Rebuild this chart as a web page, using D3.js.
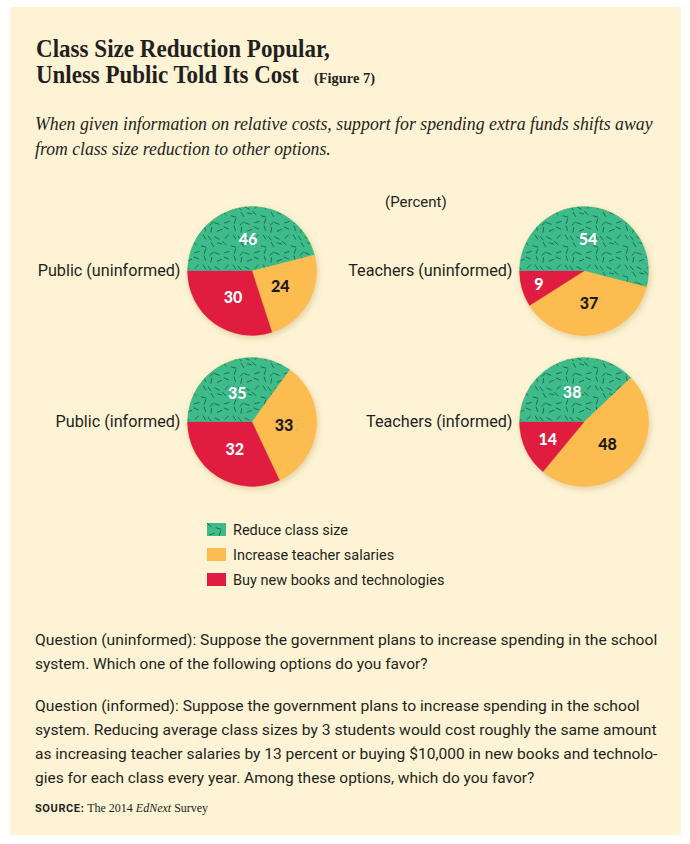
<!DOCTYPE html>
<html>
<head>
<meta charset="utf-8">
<script src="https://cdn.jsdelivr.net/npm/d3@7/dist/d3.min.js"></script>
<style>
  html, body { margin: 0; padding: 0; background: #ffffff; }
  svg { display: block; }
</style>
</head>
<body>
<svg id="chart" width="690" height="844"></svg>
<script>
// ---------- DATA ----------
const categories = ["Reduce class size", "Increase teacher salaries", "Buy new books and technologies"];
const groups = ["Public (uninformed)", "Teachers (uninformed)", "Public (informed)", "Teachers (informed)"];
const reduceClassSize = [46, 54, 35, 38];
const increaseTeacherSalaries = [24, 37, 33, 48];
const buyBooksTech = [30, 9, 32, 14];

const titleLines = ["Class Size Reduction Popular,", "Unless Public Told Its Cost"];
const figureTag = "(Figure 7)";
const subtitleLines = [
  "When given information on relative costs, support for spending extra funds shifts away",
  "from class size reduction to other options."
];
const unitLabel = "(Percent)";
const questionLines = [
  "Question (uninformed): Suppose the government plans to increase spending in the school",
  "system. Which one of the following options do you favor?",
  "Question (informed): Suppose the government plans to increase spending in the school",
  "system. Reducing average class sizes by 3 students would cost roughly the same amount",
  "as increasing teacher salaries by 13 percent or buying $10,000 in new books and technolo-",
  "gies for each class every year. Among these options, which do you favor?"
];

// ---------- STYLE ----------
const colors = ["#3dbb8b", "#fdbc50", "#e01c40"];
const labelColors = ["#ffffff", "#1a1a1a", "#ffffff"];
const bg = "#fef4d5";
const ink = "#231f20";
const sans = "Roboto, 'Open Sans', sans-serif";
const serif = "'Liberation Serif', 'DejaVu Serif', serif";

const svg = d3.select("#chart");
const defs = svg.append("defs");

// drop shadow
const f = defs.append("filter").attr("id", "shadow").attr("x", "-20%").attr("y", "-20%").attr("width", "140%").attr("height", "140%");
f.append("feDropShadow").attr("dx", 1.5).attr("dy", 2.5).attr("stdDeviation", 3)
  .attr("flood-color", "#8a6a20").attr("flood-opacity", 0.28);

// confetti texture pattern for green (deterministic)
const tile = 30;
const pat = defs.append("pattern").attr("id", "confetti").attr("patternUnits", "userSpaceOnUse")
  .attr("width", tile).attr("height", tile);
pat.append("rect").attr("width", tile).attr("height", tile).attr("fill", colors[0]);
function hash(n) { const s = Math.sin(n * 127.1 + 311.7) * 43758.5453; return s - Math.floor(s); }
const grid = 4, cell = tile / grid;
for (let i = 0; i < grid; i++) {
  for (let j = 0; j < grid; j++) {
    const k = i * grid + j;
    const cx = i * cell + cell * (0.25 + 0.5 * hash(k + 1));
    const cy = j * cell + cell * (0.25 + 0.5 * hash(k + 50));
    const ang = hash(k + 99) * Math.PI;
    const L = 2.4;
    const dx = Math.cos(ang) * L, dy = Math.sin(ang) * L;
    pat.append("line")
      .attr("x1", cx - dx).attr("y1", cy - dy).attr("x2", cx + dx).attr("y2", cy + dy)
      .attr("stroke", "#1f6d4f").attr("stroke-width", 1).attr("stroke-linecap", "round");
  }
}
const fills = ["url(#confetti)", colors[1], colors[2]];

// panel
svg.append("rect").attr("x", 10).attr("y", 7).attr("width", 671).attr("height", 828).attr("fill", bg);

// helper: text squeezed horizontally to a target width with a transform
function fitText(x, y, str, width, attrs) {
  const t = svg.append("text").attr("x", 0).attr("y", 0).text(str);
  Object.entries(attrs).forEach(([k, v]) => t.attr(k, v));
  const w = t.node().getComputedTextLength();
  t.attr("transform", `translate(${x},${y}) scale(${width / w},1)`);
  return t;
}

// ---------- TITLE ----------
const titleAttrs = { "font-family": serif, "font-weight": "bold", "font-size": 25, "fill": ink };
fitText(36, 57, titleLines[0], 294, titleAttrs);
fitText(36, 83, titleLines[1], 263, titleAttrs);
fitText(314, 83, figureTag, 61, { "font-family": serif, "font-weight": "bold", "font-size": 15, "fill": ink });

// subtitle
const subW = [618, 296];
subtitleLines.forEach((t, i) => {
  fitText(35, 130 + i * 25, t, subW[i], { "font-family": serif, "font-style": "italic", "font-size": 18, "fill": ink });
});

// unit label
svg.append("text").attr("x", 385).attr("y", 207)
  .attr("font-family", sans).attr("font-size", 15).attr("fill", ink).text(unitLabel);

// ---------- PIES ----------
const xPos = d3.scalePoint().domain([0, 1]).range([252, 584]);
const yPos = d3.scalePoint().domain([0, 1]).range([271, 422]);
const radius = 64.5;
const pie = d3.pie().sort(null).value(d => d.value)
  .startAngle(-Math.PI / 2).endAngle(3 * Math.PI / 2);
const arc = d3.arc().innerRadius(0).outerRadius(radius);

groups.forEach((g, gi) => {
  const col = gi % 2, row = Math.floor(gi / 2);
  const cx = xPos(col), cy = yPos(row);
  const data = [
    { key: 0, value: reduceClassSize[gi] },
    { key: 1, value: increaseTeacherSalaries[gi] },
    { key: 2, value: buyBooksTech[gi] }
  ];
  const arcs = pie(data);
  const gEl = svg.append("g").attr("transform", `translate(${cx},${cy})`);
  gEl.append("circle").attr("r", radius).attr("fill", colors[1]).attr("filter", "url(#shadow)");
  gEl.selectAll("path.slice").data(arcs).join("path").attr("class", "slice")
    .attr("d", arc).attr("fill", d => fills[d.data.key])
    .attr("stroke", d => d.data.key === 0 ? colors[0] : fills[d.data.key]).attr("stroke-width", 0.3);
  gEl.selectAll("text.val").data(arcs).join("text").attr("class", "val")
    .attr("transform", d => {
      const v = d.data.value;
      const rr = radius * (v < 10 ? 0.73 : v < 20 ? 0.62 : 0.5);
      const a = (d.startAngle + d.endAngle) / 2;
      return `translate(${Math.sin(a) * rr},${-Math.cos(a) * rr})`;
    })
    .attr("text-anchor", "middle").attr("dy", "0.36em")
    .attr("font-family", "Lato, 'Open Sans', sans-serif").attr("font-weight", 900).attr("font-size", 16)
    .attr("fill", d => labelColors[d.data.key])
    .text(d => d.data.value);
  // group label
  svg.append("text").attr("x", cx - radius - 7).attr("y", cy + 5)
    .attr("text-anchor", "end").attr("font-family", sans).attr("font-size", 16.2).attr("fill", ink)
    .text(g);
});

// ---------- LEGEND ----------
const legend = svg.append("g").attr("transform", "translate(207,523)");
categories.forEach((c, i) => {
  const row = legend.append("g").attr("transform", `translate(0,${i * 25})`);
  row.append("rect").attr("width", 19).attr("height", 13).attr("fill", fills[i]);
  row.append("text").attr("x", 26).attr("y", 12).attr("font-family", sans).attr("font-size", 14.5).attr("fill", ink).text(c);
});

// ---------- QUESTIONS ----------
const qY = [645, 669, 711, 735, 759, 783];
const qW = [623, 393, 605, 622, 623, 500];
questionLines.forEach((t, i) => {
  fitText(35, qY[i], t, qW[i], { "font-family": sans, "font-size": 15.5, "fill": ink });
});

// source
const src = svg.append("text").attr("x", 35).attr("y", 812).attr("fill", ink);
src.append("tspan").attr("font-family", sans).attr("font-weight", "bold").attr("font-size", 11)
  .attr("letter-spacing", 0.6).text("SOURCE:");
src.append("tspan").attr("font-family", serif).attr("font-size", 12).text(" The 2014 ");
src.append("tspan").attr("font-family", serif).attr("font-style", "italic").attr("font-size", 12).text("EdNext");
src.append("tspan").attr("font-family", serif).attr("font-size", 12).text(" Survey");
</script>
</body>
</html>
